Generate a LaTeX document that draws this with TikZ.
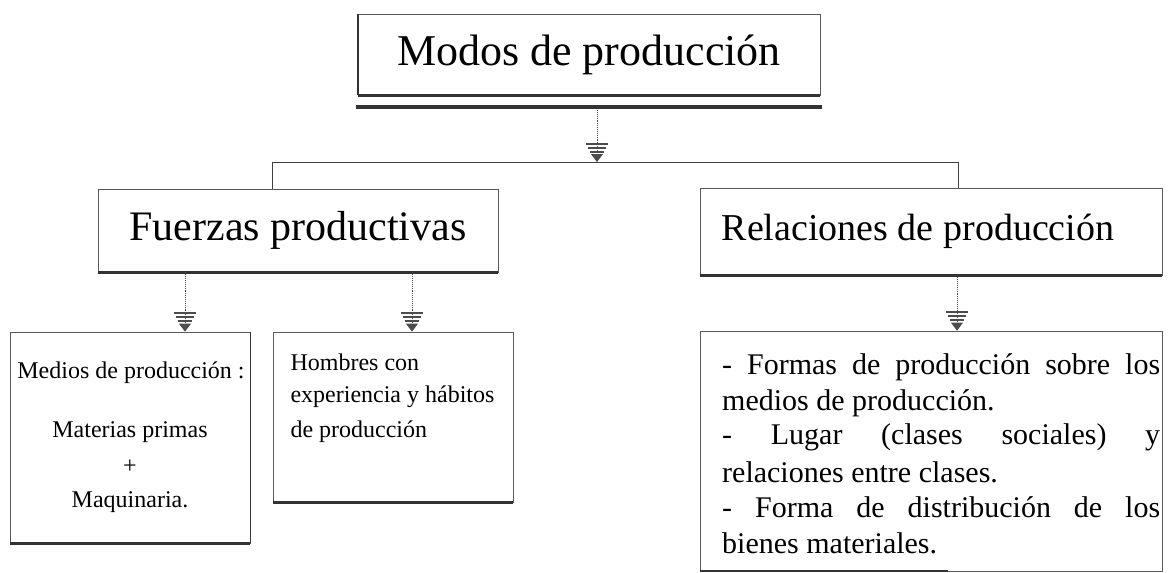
\documentclass[tikz,border=0pt]{standalone}
\usepackage{fontspec}
\setmainfont{Liberation Serif}
\usetikzlibrary{arrows.meta}
\begin{document}
\begin{tikzpicture}[x=1pt,y=-1pt,
  box/.style={draw=black!65,line width=0.8pt,rectangle,inner sep=0pt,fill=white},
  thickb/.style={line width=2.8pt,black!80},
  link/.style={line width=0.9pt,black!75},
  arr/.style={line width=0.9pt,black!70,densely dotted,
    -{Bar[width=22pt,line width=2pt,sep=2pt] Bar[width=18pt,line width=2pt,sep=2pt] Bar[width=14pt,line width=2pt,sep=1.5pt] Triangle[width=12pt,length=8pt,sep=0pt]}},
  small/.style={font=\fontsize{24}{35}\selectfont},
]
\useasboundingbox (0,0) rectangle (1168,573);

% top box
\node[box,minimum width=462pt,minimum height=81pt,font=\fontsize{44}{50}\selectfont] (modos) at (589,54.5) {Modos de producción};
\draw[thickb] (modos.south west) -- (modos.south east);
\draw[line width=2pt,black!80] (modos.north west) -- (modos.south west);
\draw[line width=3.2pt,black!80] (356,107) -- (822,107);
\coordinate (m1) at (597,110);
\coordinate (j) at (597,162);
\draw[arr] (m1) -- (j);

% second level
\node[box,minimum width=400pt,minimum height=83pt,font=\fontsize{42}{48}\selectfont] (fz) at (298,230.5) {Fuerzas productivas};
\draw[thickb] (fz.south west) -- (fz.south east);
\node[box,minimum width=462pt,minimum height=87pt,font=\fontsize{38}{44}\selectfont] (rel) at (931,231.5) {\raisebox{6pt}{Relaciones de producción}\hspace*{26pt}};
\draw[thickb] (rel.south west) -- (rel.south east);

\coordinate (jl) at (272,162);
\coordinate (jr) at (958,162);
\draw[link] (fz.north -| jl) -- (jl) -- (j);
\draw[link] (j) -- (jr) -- (rel.north -| jr);

% third level
\node[box,minimum width=240pt,minimum height=211pt] (med) at (130,437.5) {};
\draw[thickb] (med.south west) -- (med.south east);
\draw[line width=1.6pt,black!80] (med.north east) -- (med.south east);
\node[small,align=center] (medt) at (131,373) {Medios de producción :};
\node[small,align=center] (mat) at (130,432) {Materias primas};
\node[small] (plus) at (130,467) {+};
\node[small] (maq) at (130,502) {Maquinaria.};

\node[box,minimum width=240pt,minimum height=170pt] (hom) at (393,417) {};
\draw[thickb] (hom.south west) -- (hom.south east);
\node[small,anchor=west] (h1) at (287,362) {Hombres con};
\node[small,anchor=west] (h2) at (287,397) {experiencia y hábitos};
\node[small,anchor=west] (h3) at (287,432) {de producción};

\node[box,minimum width=462pt,minimum height=240pt] (rb) at (931,451) {};
\draw[line width=2pt,black!80] (700,571) -- (948,571);
\begin{scope}[every node/.style={font=\fontsize{30}{35}\selectfont,anchor=west,inner sep=0pt}]
\node (r1) at (722,367) {\makebox[438pt][s]{- Formas de producción sobre los}};
\node (r2) at (722,403) {medios de producción.};
\node (r3) at (722,437) {\makebox[438pt][s]{- Lugar (clases sociales) y}};
\node (r4) at (722,472) {relaciones entre clases.};
\node (r5) at (722,507) {\makebox[438pt][s]{- Forma de distribución de los}};
\node (r6) at (722,543) {bienes materiales.};
\end{scope}

\draw[arr] (fz.south -| 185,0) -- (med.north -| 185,0);
\draw[arr] (fz.south -| 412,0) -- (hom.north -| 412,0);
\draw[arr] (rel.south -| 957,0) -- (rb.north -| 957,0);
\end{tikzpicture}
\end{document}
